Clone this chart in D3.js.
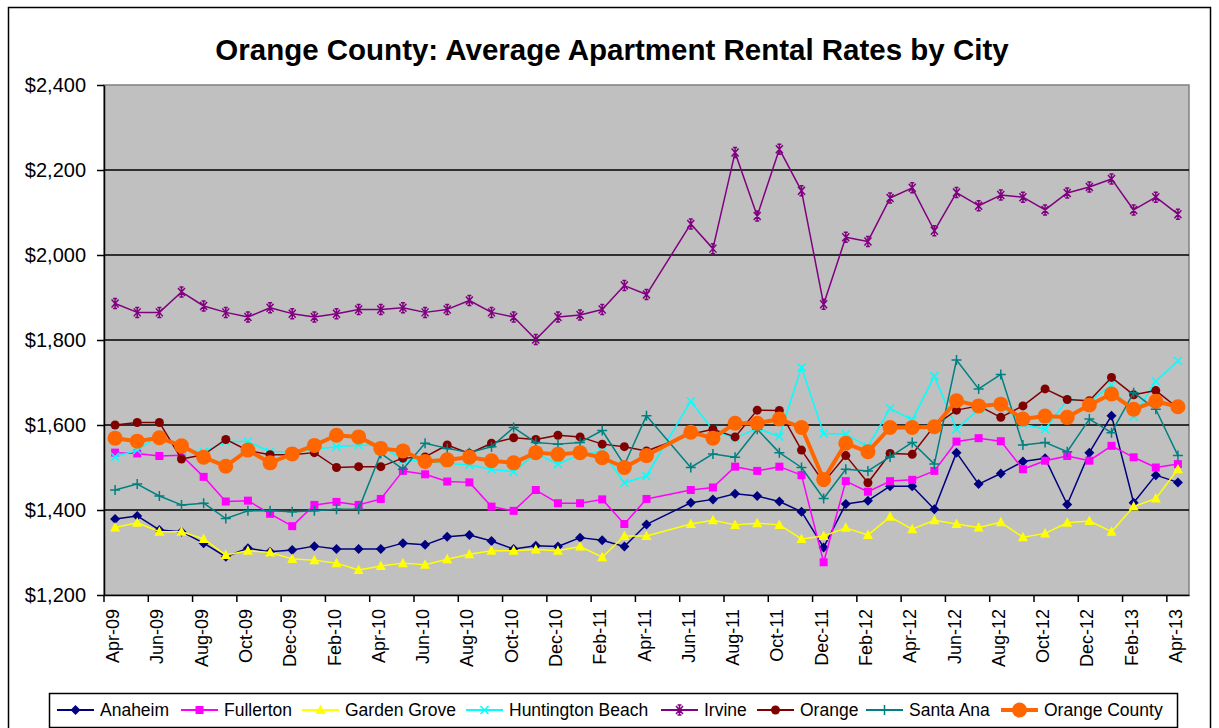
<!DOCTYPE html>
<html>
<head>
<meta charset="utf-8">
<script src="https://cdn.jsdelivr.net/npm/d3@7"></script>
<style>
  html, body { margin: 0; padding: 0; background: #fff; }
  svg { display: block; font-family: Arial, "Liberation Sans", sans-serif; }
</style>
</head>
<body>
<svg id="chart" width="1219" height="728"></svg>
<script>
// Monthly average apartment rents, Apr 2009 - Apr 2013 (no survey for May 2011)
const months = [
  "Apr-09","May-09","Jun-09","Jul-09","Aug-09","Sep-09","Oct-09","Nov-09","Dec-09",
  "Jan-10","Feb-10","Mar-10","Apr-10","May-10","Jun-10","Jul-10","Aug-10","Sep-10","Oct-10","Nov-10","Dec-10",
  "Jan-11","Feb-11","Mar-11","Apr-11","May-11","Jun-11","Jul-11","Aug-11","Sep-11","Oct-11","Nov-11","Dec-11",
  "Jan-12","Feb-12","Mar-12","Apr-12","May-12","Jun-12","Jul-12","Aug-12","Sep-12","Oct-12","Nov-12","Dec-12",
  "Jan-13","Feb-13","Mar-13","Apr-13"
];

const anaheim = [1379,1386,1353,1349,1322,1290,1310,1302,1306,1315,1308,1308,1308,1322,1318,1337,1341,1327,1308,1316,1314,1335,1329,1314,1366,null,1417,1425,1438,1433,1420,1396,1312,1414,1422,1456,1456,1402,1535,1461,1486,1514,1522,1413,1535,1622,1417,1482,1465];
const fullerton = [1535,1533,1527,1529,1478,1420,1422,1391,1362,1412,1419,1412,1426,1492,1484,1467,1465,1408,1398,1447,1416,1416,1425,1367,1426,null,1447,1453,1502,1492,1502,1482,1277,1468,1443,1468,1471,1492,1561,1569,1562,1496,1516,1527,1516,1551,1524,1500,1508];
const gardenGrove = [1359,1370,1349,1349,1332,1294,1304,1300,1285,1282,1275,1259,1268,1275,1271,1284,1296,1304,1304,1307,1304,1314,1289,1339,1339,null,1367,1376,1365,1369,1365,1332,1339,1358,1341,1384,1355,1376,1367,1359,1371,1336,1345,1370,1374,1349,1408,1427,1496];
const huntingtonBeach = [1525,1541,1575,1540,1537,1561,1561,1537,1537,1543,1549,1553,1551,1518,1514,1510,1506,1496,1490,1533,1508,1530,1537,1464,1480,null,1656,1588,1569,1592,1573,1736,1580,1578,1549,1639,1612,1715,1590,1637,1648,1602,1590,1659,1655,1694,1620,1703,1751];
const irvine = [1886,1865,1865,1913,1880,1865,1854,1876,1862,1854,1862,1872,1872,1876,1865,1872,1893,1865,1854,1801,1854,1859,1872,1928,1907,null,2073,2015,2241,2092,2249,2151,1884,2042,2032,2134,2158,2057,2147,2116,2141,2136,2106,2146,2160,2179,2106,2136,2096];
const orange = [1600,1606,1606,1520,1530,1566,1540,1530,1530,1535,1500,1502,1502,1522,1525,1553,1533,1557,1570,1566,1576,1572,1555,1549,1539,null,1578,1590,1572,1635,1634,1541,1465,1528,1464,1533,1531,1598,1635,1645,1618,1645,1685,1660,1657,1712,1671,1681,1640];
const santaAna = [1447,1461,1433,1412,1416,1380,1398,1398,1396,1398,1402,1402,1533,1496,1557,1545,1535,1549,1594,1559,1555,1559,1587,1506,1622,null,1500,1532,1524,1590,1535,1500,1427,1496,1492,1525,1559,1508,1753,1685,1719,1553,1559,1537,1614,1582,1676,1637,1528];
const orangeCounty = [1569,1562,1570,1551,1524,1503,1541,1511,1532,1552,1576,1572,1545,1539,1514,1518,1524,1516,1511,1535,1531,1535,1523,1500,1528,null,1583,1569,1604,1604,1614,1594,1472,1557,1537,1594,1594,1596,1657,1645,1649,1614,1621,1618,1647,1673,1637,1656,1643];

const seriesNames = ["Anaheim","Fullerton","Garden Grove","Huntington Beach","Irvine","Orange","Santa Ana","Orange County"];
const seriesValues = [anaheim, fullerton, gardenGrove, huntingtonBeach, irvine, orange, santaAna, orangeCounty];
const yTicks = [1200,1400,1600,1800,2000,2200,2400];

// Visual style per series
const styles = [
  {color:"#000080", marker:"diamond",  width:1.5},
  {color:"#FF00FF", marker:"square",   width:1.5},
  {color:"#FFFF00", marker:"triangle", width:1.5},
  {color:"#00FFFF", marker:"cross",    width:1.5},
  {color:"#800080", marker:"star",     width:1.5},
  {color:"#800000", marker:"circle",   width:1.5},
  {color:"#008080", marker:"plus",     width:1.5},
  {color:"#FF6600", marker:"bigcircle",width:4}
];

function markerPath(type) {
  switch (type) {
    case "diamond":  return "M0,-5L5,0L0,5L-5,0Z";
    case "square":   return "M-4,-4H4V4H-4Z";
    case "triangle": return "M0,-5.5L5,4L-5,4Z";
    case "cross":    return "M-4,-4L4,4M-4,4L4,-4";
    case "star":     return "M-3.5,-4L3.5,4M-3.5,4L3.5,-4M0,-5V5M-2,-5H2M-2,5H2";
    case "plus":     return "M-5,0H5M0,-5V5";
  }
  return null;
}
function drawMarker(sel, st) {
  if (st.marker === "circle") {
    sel.append("circle").attr("r", 4.5).attr("fill", st.color);
  } else if (st.marker === "bigcircle") {
    sel.append("circle").attr("r", 7.5).attr("fill", st.color);
  } else if (st.marker === "cross" || st.marker === "star" || st.marker === "plus") {
    sel.append("path").attr("d", markerPath(st.marker)).attr("fill", "none")
      .attr("stroke", st.color).attr("stroke-width", 1.5);
  } else {
    sel.append("path").attr("d", markerPath(st.marker)).attr("fill", st.color);
  }
}

const svg = d3.select("#chart");
const plot = {left:104, right:1189, top:85, bottom:595};

// Outer chart frame
svg.append("rect").attr("x", 8.5).attr("y", 7.5).attr("width", 1202).attr("height", 740)
  .attr("fill", "#fff").attr("stroke", "#000").attr("stroke-width", 1.5);

// Title
svg.append("text").attr("x", 612).attr("y", 60).attr("text-anchor", "middle")
  .attr("font-size", 29.5).attr("font-weight", "bold").text("Orange County: Average Apartment Rental Rates by City");

const x = d3.scaleBand().domain(months).range([plot.left, plot.right]).paddingInner(0).paddingOuter(0);
const y = d3.scaleLinear().domain([1200, 2400]).range([plot.bottom, plot.top]);
const bw = x.bandwidth();

// Plot area
svg.append("rect").attr("x", plot.left).attr("y", plot.top)
  .attr("width", plot.right - plot.left).attr("height", plot.bottom - plot.top)
  .attr("fill", "#C0C0C0").attr("stroke", "#808080").attr("stroke-width", 1.5);

// Horizontal gridlines
svg.append("g").selectAll("line").data(yTicks.slice(1, -1)).join("line")
  .attr("x1", plot.left).attr("x2", plot.right)
  .attr("y1", d => y(d)).attr("y2", d => y(d))
  .attr("stroke", "#000").attr("stroke-width", 1.5);

// Y axis
const yAxis = svg.append("g").attr("transform", `translate(${plot.left},0)`)
  .call(d3.axisLeft(y).tickValues(yTicks).tickFormat(d3.format("$,.0f")).tickSizeInner(7).tickSizeOuter(0).tickPadding(11));
yAxis.select(".domain").attr("stroke", "#000").attr("stroke-width", 1.5);
yAxis.selectAll(".tick line").attr("stroke", "#000").attr("stroke-width", 1.5);
yAxis.selectAll(".tick text").attr("font-size", 20).attr("fill", "#000")
  .attr("font-family", "Arial, 'Liberation Sans', sans-serif");

// X axis: labels every second month, ticks on category boundaries
const everyOther = months.filter((m, i) => i % 2 === 0);
const xAxis = svg.append("g").attr("transform", `translate(0,${plot.bottom})`)
  .call(d3.axisBottom(x).tickValues(everyOther).tickSizeInner(7).tickSizeOuter(0).tickPadding(0));
xAxis.select(".domain").attr("stroke", "#000").attr("stroke-width", 1.5);
xAxis.selectAll(".tick line").attr("x1", -bw / 2).attr("x2", -bw / 2)
  .attr("stroke", "#000").attr("stroke-width", 1.5);
xAxis.selectAll(".tick text")
  .attr("font-size", 18).attr("fill", "#000")
  .attr("font-family", "Arial, 'Liberation Sans', sans-serif")
  .attr("text-anchor", "end").attr("dy", null)
  .attr("transform", "translate(-2,14) rotate(-90)")
  .attr("dominant-baseline", "central")
  .attr("y", 0).attr("x", 0);

// Series lines and markers (missing months are bridged)
const line = d3.line().x(d => x(d.m) + bw / 2).y(d => y(d.v));
seriesValues.forEach((vals, si) => {
  const st = styles[si];
  const pts = vals.map((v, i) => ({m: months[i], v})).filter(d => d.v !== null);
  const g = svg.append("g");
  g.append("path").datum(pts).attr("d", line).attr("fill", "none")
    .attr("stroke", st.color).attr("stroke-width", st.width).attr("stroke-linejoin", "round");
  g.selectAll("g.pt").data(pts).join("g").attr("class", "pt")
    .attr("transform", d => `translate(${x(d.m) + bw / 2},${y(d.v)})`)
    .each(function() { drawMarker(d3.select(this), st); });
});

// Legend
const legend = svg.append("g");
legend.append("rect").attr("x", 49.5).attr("y", 693.5).attr("width", 1128).attr("height", 34)
  .attr("fill", "#fff").attr("stroke", "#000").attr("stroke-width", 1.5);
const legendX = [57, 181, 302, 466, 661, 757, 866, 1001];
const ly = 710;
seriesNames.forEach((name, si) => {
  const st = styles[si];
  const item = legend.append("g").attr("transform", `translate(${legendX[si]},${ly})`);
  item.append("line").attr("x1", 0).attr("x2", 37).attr("stroke", st.color)
    .attr("stroke-width", si === 7 ? 4 : 2);
  const mk = item.append("g").attr("transform", "translate(18.5,0)");
  drawMarker(mk, st);
  item.append("text").attr("x", 43).attr("y", 0).attr("dy", "0.35em")
    .attr("font-size", 17.5).text(name);
});
</script>
</body>
</html>
